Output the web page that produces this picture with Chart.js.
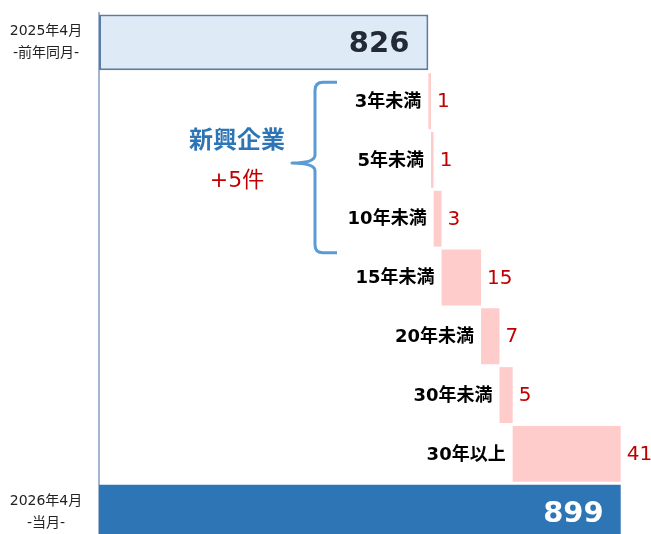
<!DOCTYPE html>
<html lang="ja">
<head>
<meta charset="utf-8">
<script src="https://cdn.jsdelivr.net/npm/chart.js@4"></script>
<style>
    html, body { margin: 0; padding: 0; background: #fff; overflow: hidden; }
    #wrap { width: 651px; height: 542px; position: relative; }
</style>
</head>
<body>
<div id="wrap"><canvas id="chart"></canvas></div>
<script>
// 社歴別の増減（ウォーターフォール）
const categories = ['2025年4月', '3年未満', '5年未満', '10年未満', '15年未満', '20年未満', '30年未満', '30年以上', '2026年4月'];
const axisLabels = [['2025年4月', '-前年同月-'], null, null, null, null, null, null, null, ['2026年4月', '-当月-']];
const prevTotal = 826;
const currTotal = 899;
const increments = [1, 1, 3, 15, 7, 5, 41];
const xMin = 701;
const xMax = 910.5;

// 積み上げ位置を計算
const floating = [[xMin, prevTotal]];
let running = prevTotal;
increments.forEach(v => {
    floating.push([running, running + v]);
    running += v;
});
floating.push([xMin, currTotal]);

const barColors = ['#deebf7'].concat(increments.map(() => '#ffcccc'), ['#2e75b6']);
const borderColors = ['#5b7ca3'].concat(increments.map(() => 'rgba(0,0,0,0)'), ['rgba(0,0,0,0)']);
const borderWidths = [2].concat(increments.map(() => 0), [0]);

const CJK = '"DejaVu Sans", "Noto Sans CJK JP", sans-serif';

// ラベルと注釈
const labelPlugin = {
    id: 'waterfallLabels',
    afterDatasetsDraw(chart) {
        const ctx = chart.ctx;
        const bars = chart.getDatasetMeta(0).data;
        ctx.save();
        ctx.textBaseline = 'middle';

        bars.forEach((bar, i) => {
            const left = Math.min(bar.x, bar.base);
            const right = Math.max(bar.x, bar.base);

            // 左側の年月ラベル
            if (axisLabels[i]) {
                ctx.font = '14px ' + CJK;
                ctx.fillStyle = '#222222';
                ctx.textAlign = 'center';
                ctx.fillText(axisLabels[i][0], 46, bar.y - 11);
                ctx.fillText(axisLabels[i][1], 46, bar.y + 11);
            }

            if (i === 0 || i === bars.length - 1) {
                ctx.font = 'bold 29px ' + CJK;
                ctx.fillStyle = i === 0 ? '#222a35' : '#ffffff';
                ctx.textAlign = 'right';
                ctx.fillText(i === 0 ? prevTotal : currTotal, right - (i === 0 ? 19 : 17), bar.y + 2);
            } else {
                ctx.font = 'bold 18px ' + CJK;
                ctx.fillStyle = '#000000';
                ctx.textAlign = 'right';
                ctx.fillText(categories[i], left - 7, bar.y + 1);

                ctx.font = '20px ' + CJK;
                ctx.fillStyle = '#c00000';
                ctx.textAlign = 'left';
                ctx.fillText(increments[i - 1], right + 6, bar.y + 1);
            }
        });

        // 新興企業の中括弧
        const yTop = bars[1].y - 19;
        const yMid = bars[2].y + 3;
        const yBot = bars[3].y + 34;
        ctx.strokeStyle = '#5b9bd5';
        ctx.lineWidth = 3;
        ctx.lineJoin = 'round';
        ctx.beginPath();
        ctx.moveTo(337, yTop);
        ctx.lineTo(323, yTop);
        ctx.quadraticCurveTo(315, yTop, 315, yTop + 8);
        ctx.lineTo(315, yMid - 8);
        ctx.quadraticCurveTo(315, yMid, 292, yMid);
        ctx.quadraticCurveTo(315, yMid, 315, yMid + 8);
        ctx.lineTo(315, yBot - 8);
        ctx.quadraticCurveTo(315, yBot, 323, yBot);
        ctx.lineTo(337, yBot);
        ctx.stroke();

        ctx.textAlign = 'center';
        ctx.font = 'bold 24px "Noto Sans CJK JP", sans-serif';
        ctx.fillStyle = '#2e75b6';
        ctx.fillText('新興企業', 237, yMid - 24);
        ctx.font = '22px ' + CJK;
        ctx.fillStyle = '#c00000';
        ctx.fillText('+' + increments.slice(0, 3).reduce((a, b) => a + b, 0) + '件', 237, yMid + 18);

        ctx.restore();
    }
};

new Chart(document.getElementById('chart'), {
    type: 'bar',
    data: {
        labels: categories,
        datasets: [{
            data: floating,
            backgroundColor: barColors,
            borderColor: borderColors,
            borderWidth: borderWidths,
            borderSkipped: false,
            barPercentage: 0.95,
            categoryPercentage: 1.0
        }]
    },
    options: {
        indexAxis: 'y',
        responsive: true,
        maintainAspectRatio: false,
        animation: false,
        layout: { padding: { top: 13, right: 0, bottom: 0, left: 0 } },
        plugins: {
            legend: { display: false },
            tooltip: { enabled: false }
        },
        scales: {
            x: {
                display: false,
                min: xMin,
                max: xMax
            },
            y: {
                grid: { display: false, drawTicks: false },
                border: { display: true, color: '#a3b6cf', width: 2 },
                ticks: { display: false },
                afterFit: (scale) => { scale.width = 99; }
            }
        }
    },
    plugins: [labelPlugin]
});
</script>
</body>
</html>
